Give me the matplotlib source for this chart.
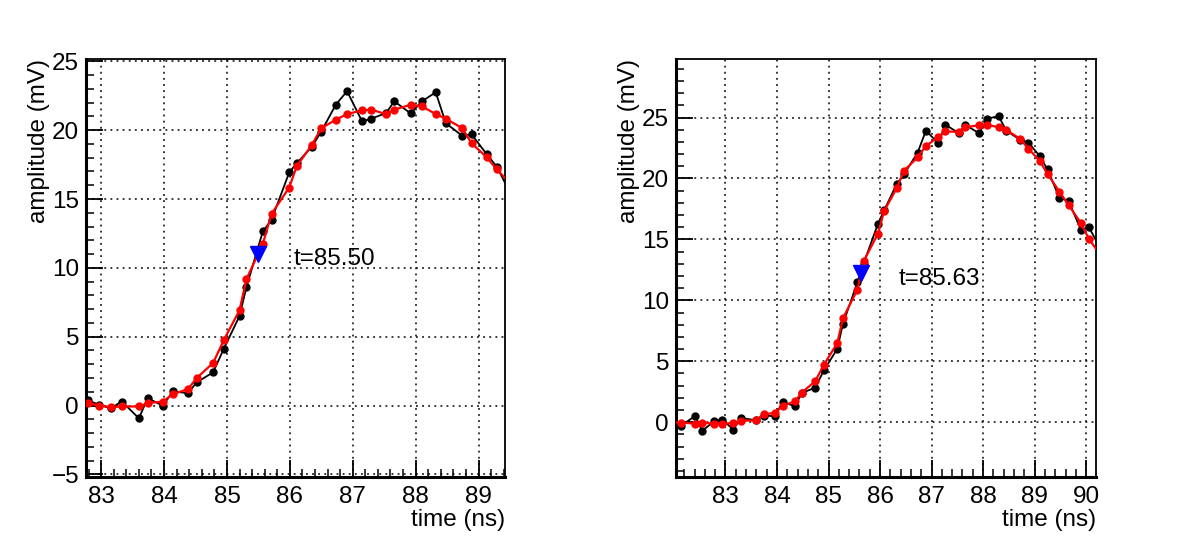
import matplotlib
matplotlib.use('Agg')
import matplotlib.pyplot as plt
from matplotlib.ticker import MultipleLocator

plt.rcParams['font.family'] = ['Liberation Sans', 'DejaVu Sans']
plt.rcParams['font.size'] = 17.5

# left waveform
t_a = [82.62, 82.79, 82.97, 83.15, 83.33, 83.60, 83.74, 83.98, 84.14, 84.38,
       84.52, 84.78, 84.95, 85.20, 85.31, 85.57, 85.71, 85.99, 86.11, 86.35,
       86.50, 86.73, 86.91, 87.15, 87.29, 87.53, 87.66, 87.92, 88.10, 88.32,
       88.48, 88.74, 88.89, 89.13, 89.29, 89.53]
raw_a = [0.5, 0.37, 0.05, -0.2, 0.29, -0.93, 0.54, -0.02, 1.02, 0.9,
         1.68, 2.41, 4.12, 6.5, 8.6, 12.64, 13.5, 16.93, 17.59, 18.8,
         19.9, 21.85, 22.83, 20.63, 20.83, 21.24, 22.1, 21.22, 22.1, 22.75,
         20.5, 19.6, 19.7, 18.25, 17.35, 15.2]
smooth_a = [0.2, 0.17, 0.0, -0.12, -0.07, -0.07, 0.17, 0.29, 0.83, 1.19,
            2.0, 3.09, 4.75, 6.92, 9.18, 11.74, 13.93, 15.83, 17.39, 18.93,
            20.15, 20.75, 21.17, 21.44, 21.49, 21.17, 21.49, 21.85, 21.73, 21.17,
            20.83, 20.15, 19.05, 18.03, 17.15, 16.0]
tcross_a, vcross_a = 85.50, 11.02

# right waveform
t_b = [81.88, 82.14, 82.41, 82.55, 82.78, 82.94, 83.15, 83.30, 83.59, 83.74,
       83.96, 84.11, 84.35, 84.48, 84.74, 84.91, 85.17, 85.28, 85.56, 85.68,
       85.96, 86.08, 86.32, 86.47, 86.73, 86.89, 87.13, 87.27, 87.53, 87.65,
       87.92, 88.08, 88.30, 88.45, 88.71, 88.88, 89.10, 89.25, 89.48, 89.66,
       89.90, 90.05, 90.31]
raw_b = [0.2, -0.3, 0.52, -0.71, 0.08, 0.22, -0.6, 0.35, 0.16, 0.55,
         0.49, 1.66, 1.31, 2.4, 2.83, 4.25, 6.02, 8.07, 11.47, 13.0,
         16.29, 17.38, 19.51, 20.38, 22.12, 23.92, 22.89, 24.41, 23.71, 24.41,
         23.71, 24.9, 25.12, 23.92, 23.19, 22.94, 21.83, 20.74, 18.42, 18.15,
         15.75, 16.02, 14.0]
smooth_b = [0.0, -0.03, -0.11, -0.05, -0.11, -0.16, -0.03, 0.11, 0.16, 0.65,
            0.76, 1.34, 1.72, 2.43, 3.35, 4.71, 6.49, 8.53, 10.87, 13.19,
            15.48, 17.33, 19.18, 20.65, 21.74, 22.67, 23.38, 23.87, 23.81, 24.2,
            24.36, 24.41, 24.2, 23.98, 23.27, 22.45, 21.42, 20.38, 18.91, 17.82,
            16.32, 15.07, 13.5]
tcross_b, vcross_b = 85.63, 12.28

fig = plt.figure(figsize=(11.82, 5.55), dpi=100)
ax1 = fig.add_axes([0.0728, 0.1411, 0.3544, 0.7526])
ax2 = fig.add_axes([0.5719, 0.1411, 0.3553, 0.7526])

panels = [
    (ax1, t_a, raw_a, smooth_a, tcross_a, vcross_a, (82.76, 89.42), (-5.17, 25.17), (86.06, 10.65)),
    (ax2, t_b, raw_b, smooth_b, tcross_b, vcross_b, (82.04, 90.19), (-4.47, 29.8), (86.36, 11.76)),
]

for ax, t, raw, smooth, tc, vc, xl, yl, txt in panels:
    ax.plot(t, raw, color='black', lw=1.3, marker='o', ms=5, zorder=3)
    ax.plot(t, smooth, color='red', lw=1.6, marker='o', ms=5, zorder=4)
    ax.plot([tc], [vc], marker='v', color='blue', ms=12, ls='none', zorder=5)
    ax.text(txt[0], txt[1], 't=%.2f' % tc, ha='left', va='center')
    ax.set_xlim(xl)
    ax.set_ylim(yl)
    ax.xaxis.set_major_locator(MultipleLocator(1))
    ax.xaxis.set_minor_locator(MultipleLocator(0.2))
    ax.yaxis.set_major_locator(MultipleLocator(5))
    ax.yaxis.set_minor_locator(MultipleLocator(1))
    ax.tick_params(which='both', direction='in', top=False, right=False)
    ax.tick_params(which='major', length=12, width=1.3, pad=7)
    ax.tick_params(axis='y', which='major', pad=5)
    ax.tick_params(which='minor', length=6, width=1.1)
    ax.grid(True, which='major', color='black', ls=(0, (1.2, 2.8)), lw=1.1)
    ax.spines['left'].set_linewidth(2.2)
    ax.spines['bottom'].set_linewidth(2.2)
    ax.spines['top'].set_linewidth(1.3)
    ax.spines['right'].set_linewidth(1.3)
    ax.set_ylabel('amplitude (mV)', loc='top', va='center')
    ax.yaxis.set_label_coords(-0.112, 1.0)
    ax.set_xlabel('time (ns)', loc='right', va='center')
    ax.xaxis.set_label_coords(1.0, -0.104)

fig.savefig('out.png', dpi=100)
